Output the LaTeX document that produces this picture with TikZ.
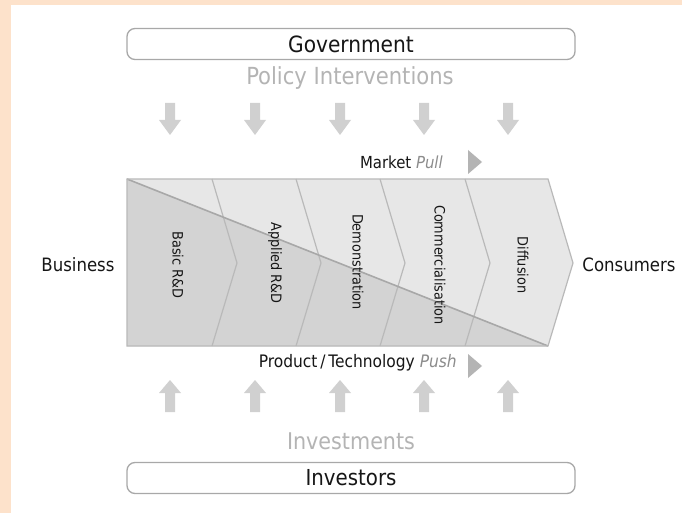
\documentclass[tikz,border=0pt]{standalone}
\usepackage{fontspec}
\setmainfont{DejaVu Sans Condensed}
\usetikzlibrary{calc}
\definecolor{peach}{HTML}{FDE2CB}
\definecolor{txt}{HTML}{161616}
\definecolor{softgray}{HTML}{B4B4B4}
\definecolor{italgray}{HTML}{8C8C8C}
\definecolor{arrowgray}{HTML}{D0D0D0}
\definecolor{lightband}{HTML}{E7E7E7}
\definecolor{darkband}{HTML}{D3D3D3}
\definecolor{divider}{HTML}{B9B9B9}
\definecolor{boxline}{HTML}{A8A8A8}
\tikzset{
  actorbox/.style={draw=boxline, line width=1.3pt, rounded corners=8pt, fill=white,
    minimum width=448pt, minimum height=31pt, inner sep=0pt, text=txt},
  flowtext/.style={font=\fontsize{23}{23}\selectfont, text=softgray, inner sep=0pt},
  sidetext/.style={font=\fontsize{18.4}{18.4}\selectfont, text=txt, inner sep=0pt},
  forcetext/.style={font=\fontsize{16.6}{16.6}\selectfont, text=txt, inner sep=0pt},
  stagetext/.style={font=\fontsize{14.3}{14.3}\selectfont, text=txt, inner sep=0pt, rotate=-90},
  blockarrow/.style={fill=arrowgray, draw=none},
  tri/.style={fill=softgray, draw=none}
}
\begin{document}
\begin{tikzpicture}[x=1pt,y=-1pt]
\useasboundingbox (0,0) rectangle (682,513);
\fill[peach] (0,0) rectangle (682,513);
\fill[white] (11,5) rectangle (682,513);

% actors
\node[actorbox, font=\fontsize{22.4}{22.4}\selectfont] (gov) at (351,44) {Government};
\node[actorbox, font=\fontsize{22}{22}\selectfont] (inv) at (351,478) {Investors};
\node[flowtext, font=\fontsize{23.5}{23.5}\selectfont] (policy) at (350,78) {Policy Interventions};
\node[flowtext] (invest) at (351,441) {Investments};

% block arrows
\foreach \x [count=\i] in {170,255,340,424,508}{
  \fill[blockarrow] (\x-5,103) -- (\x+5,103) -- (\x+5,120) -- (\x+11,120) -- (\x,135)
     -- (\x-11,120) -- (\x-5,120) -- cycle;
  \fill[blockarrow] (\x-5,412) -- (\x+5,412) -- (\x+5,393) -- (\x+11,393) -- (\x,380)
     -- (\x-11,393) -- (\x-5,393) -- cycle;
}

% band
\coordinate (tl) at (127,179);
\coordinate (bl) at (127,346);
\coordinate (tr) at (548,179);
\coordinate (tip) at (573,263);
\coordinate (br) at (548,346);
\fill[lightband] (tl) -- (tr) -- (tip) -- (br) -- (bl) -- cycle;
\begin{scope}
  \clip (tl) -- (tr) -- (tip) -- (br) -- (bl) -- cycle;
  \fill[darkband] (tl) -- (br) -- (bl) -- cycle;
\end{scope}
\foreach \x in {212,296,380,465}{
  \draw[divider, line width=1.2pt] (\x,179) -- (\x+25,263) -- (\x,346);
}
\draw[boxline, line width=1.6pt] (tl) -- (br);
\draw[divider, line width=1.2pt] (tl) -- (tr) -- (tip) -- (br) -- (bl) -- cycle;

\node[stagetext] (s1) at (178,265) {Basic R\&D};
\node[stagetext] (s2) at (275,263) {Applied R\&D};
\node[stagetext] (s3) at (358,262) {Demonstration};
\node[stagetext] (s4) at (440,265) {Commercialisation};
\node[stagetext] (s5) at (523,265) {Diffusion};

\node[sidetext] (bus) at (78,265) {Business};
\node[sidetext] (con) at (629,265) {Consumers};

% forces
\node[forcetext, anchor=east] (pull) at (443,162) {Market \textcolor{italgray}{\itshape Pull}};
\fill[tri] (468,150) -- (482,162) -- (468,174) -- cycle;
\node[forcetext, font=\fontsize{17.2}{17.2}\selectfont, anchor=east] (push) at (457,363) {Product\,/\,Technology \textcolor{italgray}{\itshape Push}};
\fill[tri] (468,354) -- (482,366) -- (468,378) -- cycle;
\end{tikzpicture}
\end{document}
